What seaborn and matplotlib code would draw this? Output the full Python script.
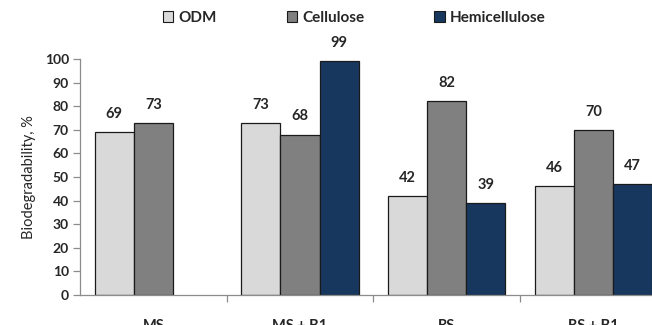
import matplotlib
matplotlib.use("Agg")
import matplotlib.pyplot as plt
from matplotlib.patches import Patch
import seaborn as sns
import pandas as pd

# Biodegradability of substrate components per treatment
groups = ["MS", "MS + B1", "RS", "RS + B1"]
components = ["ODM", "Cellulose", "Hemicellulose"]
odm = [69, 73, 42, 46]
cellulose = [73, 68, 82, 70]
hemicellulose = [None, 99, 39, 47]  # no hemicellulose value for MS
colors = ["#D9D9D9", "#808080", "#17375E"]

rows = []
for g, a, b, c in zip(groups, odm, cellulose, hemicellulose):
    for comp, v in zip(components, (a, b, c)):
        if v is not None:
            rows.append({"group": g, "component": comp, "value": v})
df = pd.DataFrame(rows)

sns.set_style("white")
plt.rcParams["font.family"] = ["Lato", "DejaVu Sans"]

fig = plt.figure(figsize=(6.52, 3.25), dpi=100)
ax = fig.add_axes([80 / 652, 1 - 295 / 325, 572 / 652, (295 - 59) / 325])

sns.barplot(data=df, x="group", y="value", hue="component",
            order=groups, hue_order=components, palette=colors,
            saturation=1, width=0.8, edgecolor="#1A1A1A", linewidth=0.9,
            errorbar=None, ax=ax, legend=False)

# value labels above every bar
for container in ax.containers:
    for bar in container:
        h = bar.get_height()
        if h != h or h == 0:
            continue
        ax.annotate(f"{h:.0f}", (bar.get_x() + bar.get_width() / 2, h),
                    xytext=(0, 8), textcoords="offset points",
                    ha="center", va="bottom", fontsize=10.5,
                    fontweight="bold", annotation_clip=False)

ax.set_xlim(-0.5, 3.40)
ax.set_ylim(0, 100)
ax.set_yticks(range(0, 101, 10))
ax.set_xlabel("")
ax.set_ylabel("Biodegradability, %", fontsize=10.5, labelpad=6)

for side in ("top", "right"):
    ax.spines[side].set_visible(False)
for side in ("left", "bottom"):
    ax.spines[side].set_color("#8C8C8C")
    ax.spines[side].set_linewidth(0.9)

ax.tick_params(axis="y", which="major", left=True, length=5, width=0.9,
               color="#8C8C8C", labelsize=10, pad=3)
for lbl in ax.get_yticklabels():
    lbl.set_fontweight("bold")

# category dividers as minor ticks below the axis
ax.set_xticks([0.5, 1.5, 2.5], minor=True)
ax.tick_params(axis="x", which="minor", bottom=True, length=5, width=0.9,
               color="#8C8C8C")
ax.tick_params(axis="x", which="major", bottom=False, labelsize=10.5, pad=14)
for lbl in ax.get_xticklabels():
    lbl.set_fontweight("bold")

handles = [Patch(facecolor=c, edgecolor="#1A1A1A", linewidth=0.8, label=n)
           for c, n in zip(colors, components)]
fig.legend(handles=handles, loc="center", bbox_to_anchor=(354 / 652, 1 - 18 / 325),
           ncol=3, frameon=False, handlelength=0.7,
           handleheight=0.7, handletextpad=0.3, columnspacing=4.6,
           prop={"weight": "bold", "size": 11})

fig.savefig("out.png", dpi=100)
